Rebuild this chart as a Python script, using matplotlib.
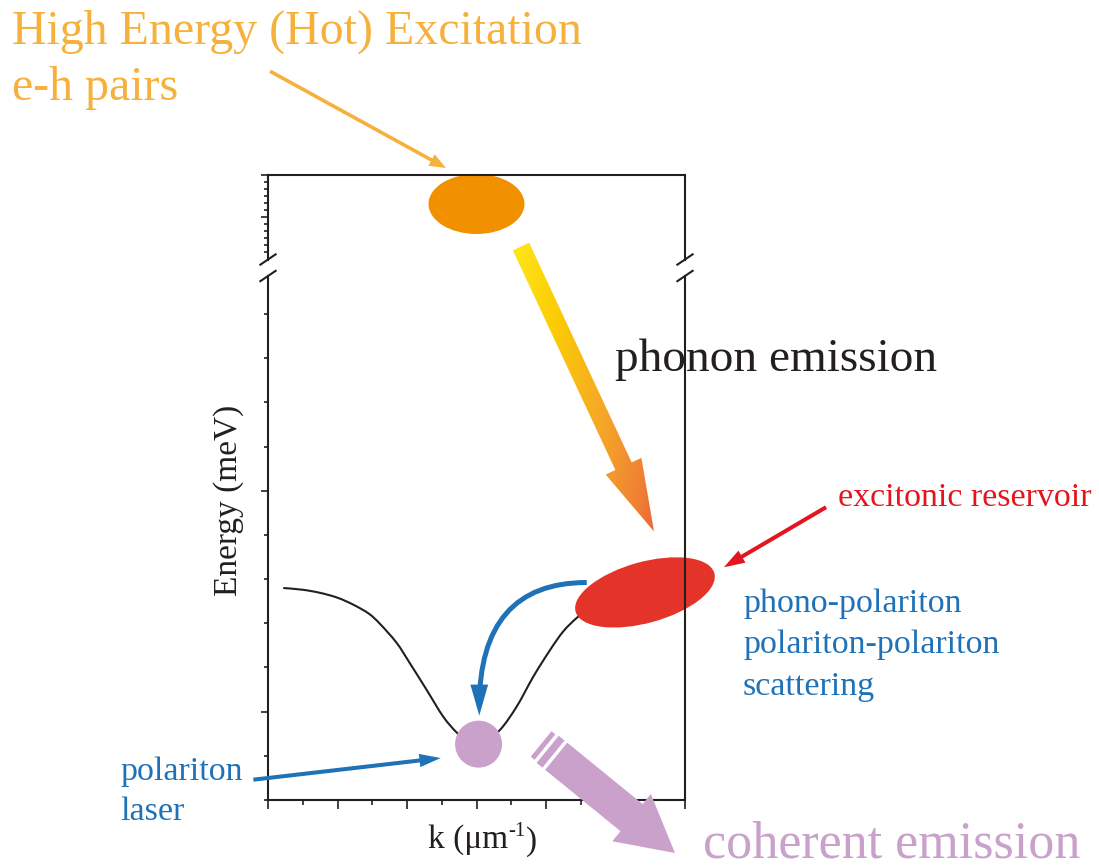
import numpy as np
import matplotlib
matplotlib.use("Agg")
import matplotlib.pyplot as plt
from matplotlib.patches import Ellipse, Circle, Polygon, FancyArrowPatch, ArrowStyle, PathPatch
from matplotlib.path import Path
from matplotlib.colors import LinearSegmentedColormap
from matplotlib.ticker import MultipleLocator, FixedLocator
from matplotlib.lines import Line2D

plt.rcParams['font.family'] = ['Liberation Serif', 'DejaVu Serif']

# ---------------- data ----------------
# lower polariton dispersion (k in um^-1 units of the drawing, E in tick units)
k_curve = [-2.78, -2.50, -2.25, -2.00, -1.77, -1.55, -1.39, -1.15, -0.96, -0.72,
           -0.48, -0.28, -0.10, 0.00, 0.10, 0.34, 0.58, 0.82, 1.06, 1.25,
           1.44, 1.60, 1.77, 2.00, 2.25, 2.50, 2.78]
E_curve = [2.80, 2.76, 2.69, 2.58, 2.42, 2.22, 1.99, 1.56, 1.10, 0.50,
           -0.11, -0.48, -0.70, -0.74, -0.70, -0.41, 0.12, 0.80, 1.40, 1.82,
           2.12, 2.30, 2.45, 2.58, 2.69, 2.76, 2.80]
E_major = [0, 5]
E_hot_major = [0, 6.0]
E_hot_minor = [-5, -4, -3, -2, -1, 1, 2, 3, 4, 5]

title_lines = ["High Energy (Hot) Excitation", "e-h pairs"]
phonon_label = "phonon emission"
reservoir_label = "excitonic reservoir"
scatter_lines = ["phono-polariton", "polariton-polariton", "scattering"]
laser_lines = ["polariton", "laser"]
coherent_label = "coherent emission"
ylabel = "Energy (meV)"
xlabel_parts = ["k (μm", "-1", ")"]

# ---------------- figure ----------------
W, H = 1099, 866
fig = plt.figure(figsize=(W / 100, H / 100), dpi=100)
INK = '#231F20'
ORANGE_TXT = '#F6B13D'
HOT = '#F29100'
RED = '#E4342A'
RED_TXT = '#E3161F'
BLUE = '#1F71B8'
PINK = '#C9A1CB'


def box(l, t, r, b):
    return [l / W, 1 - b / H, (r - l) / W, (b - t) / H]


ax = fig.add_axes(box(268, 276, 685, 800))
axt = fig.add_axes(box(268, 175, 685, 259.5))
ov = fig.add_axes([0, 0, 1, 1], zorder=5)
ov.set_xlim(0, W)
ov.set_ylim(0, H)
ov.axis('off')
ov.patch.set_visible(False)

for a in (ax, axt):
    a.set_xlim(-3, 3)
    a.patch.set_visible(False)
    for s in a.spines.values():
        s.set_linewidth(1.5)
        s.set_color(INK)

ax.set_ylim(-2, 9.864)
ax.spines['top'].set_visible(False)
ax.xaxis.set_major_locator(MultipleLocator(1))
ax.xaxis.set_minor_locator(MultipleLocator(0.5))
ax.yaxis.set_major_locator(FixedLocator(E_major))
ax.yaxis.set_minor_locator(MultipleLocator(1))
ax.tick_params(which='both', direction='out', labelbottom=False, labelleft=False,
               right=False, top=False, color=INK, width=1.2)
ax.tick_params(axis='x', which='major', length=6.2)
ax.tick_params(axis='x', which='minor', length=3.6)
ax.tick_params(axis='y', which='major', length=5.2)
ax.tick_params(axis='y', which='minor', length=3.0)

axt.set_ylim(-6.07, 6.0)
axt.spines['bottom'].set_visible(False)
axt.xaxis.set_visible(False)
axt.yaxis.set_major_locator(FixedLocator(E_hot_major))
axt.yaxis.set_minor_locator(FixedLocator(E_hot_minor))
axt.tick_params(which='both', direction='out', labelleft=False, right=False,
                color=INK, width=1.2)
axt.tick_params(axis='y', which='major', length=5.2)
axt.tick_params(axis='y', which='minor', length=3.0)

# dispersion curve: smooth cubic path through the read points
pts = np.column_stack([k_curve, E_curve])
ext = np.vstack([pts[0], pts, pts[-1]])
verts = [pts[0]]
codes = [Path.MOVETO]
for i in range(len(pts) - 1):
    p0, p1, p2, p3 = ext[i], ext[i + 1], ext[i + 2], ext[i + 3]
    verts += [p1 + (p2 - p0) / 6, p2 - (p3 - p1) / 6, p2]
    codes += [Path.CURVE4] * 3
ax.add_patch(PathPatch(Path(verts, codes), facecolor='none', edgecolor=INK,
                       lw=1.5, zorder=2, clip_on=False))


def D(axis, x, y):
    """axis data -> overlay (pixel) coordinates"""
    return ov.transData.inverted().transform(axis.transData.transform((x, y)))


# axis-break slashes
for a, yfrac in ((axt, 0.0), (ax, 1.0)):
    for xfrac in (0.0, 1.0):
        cx, cy = ov.transData.inverted().transform(a.transAxes.transform((xfrac, yfrac)))
        ov.add_line(Line2D([cx - 8.5, cx + 8.5], [cy - 5.75, cy + 5.75],
                           color=INK, lw=1.5, solid_capstyle='butt'))

# hot e-h ellipse (under the top spine)
hot = Ellipse(D(axt, 0.0, 1.86), 96, 60, facecolor=HOT, edgecolor='none',
              transform=ov.transData, clip_on=False, zorder=1)
axt.add_patch(hot)

# exciton reservoir ellipse
res = Ellipse(D(ax, 2.424, 2.70), 144, 61, angle=15.5, facecolor=RED, edgecolor='none',
              transform=ov.transData, clip_on=False, zorder=2.2)
ax.add_patch(res)

# condensate
cond = Circle(D(ax, 0.03, -0.735), 23.5, facecolor=PINK, edgecolor='none',
              transform=ov.transData, clip_on=False, zorder=2.2)
ax.add_patch(cond)


def arrow_poly(T, P, sw, hw, hl):
    T = np.asarray(T, float)
    P = np.asarray(P, float)
    u = (P - T) / np.hypot(*(P - T))
    n = np.array([-u[1], u[0]])
    B = P - u * hl
    pts_ = np.array([T + n * sw, B + n * sw, B + n * hw, P, B - n * hw, B - n * sw, T - n * sw])
    return pts_, u, n


# gradient phonon-emission arrow
gT = D(ax, 0.64, 10.53)
gP = D(ax, 2.554, 4.08)
gpoly, gu, gn = arrow_poly(gT, gP, 9, 19.7, 72)
gpatch = Polygon(gpoly, closed=True, facecolor='none', edgecolor='none', zorder=3)
ov.add_patch(gpatch)
grad_cmap = LinearSegmentedColormap.from_list(
    'grad', [(0.0, '#FFEA1E'), (0.3, '#FCCB05'), (0.6, '#F6A628'),
             (0.85, '#EF7C35'), (1.0, '#E54E2E')])
xmin, ymin = gpoly.min(0) - 2
xmax, ymax = gpoly.max(0) + 2
xs = np.linspace(xmin, xmax, 200)
ys = np.linspace(ymin, ymax, 400)
X, Y = np.meshgrid(xs, ys)
Lg = np.hypot(*(gP - gT))
tt = ((X - gT[0]) * gu[0] + (Y - gT[1]) * gu[1]) / Lg
nr = gn if gn[0] > 0 else -gn
ww = ((X - gT[0]) * nr[0] + (Y - gT[1]) * nr[1]) / 19.7
vv = np.clip(0.85 * tt + 0.15 * (ww + 1) / 2, 0, 1)
im = ov.imshow(vv, cmap=grad_cmap, vmin=0, vmax=1, extent=[xmin, xmax, ymin, ymax],
               origin='lower', aspect='auto', interpolation='bilinear', zorder=3)
im.set_clip_path(gpatch)

# coherent-emission arrow with stripes
pT = D(ax, 1.147, -1.01)
pP = D(ax, 2.856, -3.20)
ppoly, pu, pn = arrow_poly(pT, pP, 17.5, 30.5, 56)
ov.add_patch(Polygon(ppoly, closed=True, facecolor=PINK, edgecolor='none', zorder=3))
for a0, a1, hh in ((3.5, 11.0, 17.5), (14.5, 19.5, 16.4)):
    s = np.array([pT - pu * a0 + pn * hh, pT - pu * a1 + pn * hh,
                  pT - pu * a1 - pn * hh, pT - pu * a0 - pn * hh])
    ov.add_patch(Polygon(s, closed=True, facecolor=PINK, edgecolor='none', zorder=3))


def thin_arrow(A, B, color, lw, hl, hw, cs='arc3,rad=0'):
    ov.add_patch(FancyArrowPatch(posA=A, posB=B, connectionstyle=cs,
                                 arrowstyle=ArrowStyle('-|>', head_length=hl, head_width=hw),
                                 mutation_scale=1, lw=lw, color=color,
                                 shrinkA=0, shrinkB=0, transform=ov.transData,
                                 zorder=4, joinstyle='miter', capstyle='butt'))


thin_arrow(D(ax, -2.97, 14.5), D(ax, -0.44, 12.31), ORANGE_TXT, 2.6, 7, 2.8)
thin_arrow(D(ax, 5.03, 4.63), D(ax, 3.56, 3.27), RED_TXT, 2.9, 9, 3.0)
thin_arrow(D(ax, -3.21, -1.54), D(ax, -0.515, -1.05), BLUE, 2.9, 9, 2.8)
thin_arrow(D(ax, 1.586, 2.925), D(ax, 0.04, -0.09), BLUE, 3.6, 14, 4.0,
           cs='angle3,angleA=180,angleB=90')


# ---------------- texts ----------------
def T(x, y, s, size, color, **kw):
    return fig.text(x / W, 1 - y / H, s, fontsize=size, color=color, va='baseline',
                    ha='left', **kw)


T(12, 44, title_lines[0], 34.5, ORANGE_TXT)
T(12, 100, title_lines[1], 34.5, ORANGE_TXT)
T(615, 371, phonon_label, 34, INK)
T(838, 506, reservoir_label, 24.5, RED_TXT)
for i, s in enumerate(scatter_lines):
    T(743, 612 + 41.5 * i, s, 24.5, BLUE)
T(120, 780, laser_lines[0], 24.5, BLUE)
T(120, 820, laser_lines[1], 24.5, BLUE)
T(703, 857, coherent_label, 37.5, PINK)

xl0 = T(428, 848, xlabel_parts[0], 24, INK)
xl1 = ov.annotate(xlabel_parts[1], xy=(1, 0), xycoords=xl0, xytext=(0.3, 13.5),
                  textcoords='offset points', fontsize=15, color=INK, va='baseline',
                  ha='left')
ov.annotate(xlabel_parts[2], xy=(1, 0), xycoords=xl1, xytext=(0.3, -6.0),
            textcoords='offset points', fontsize=24, color=INK, va='baseline', ha='left')
fig.text(229 / W, 1 - 500 / H, ylabel, fontsize=24, color=INK, rotation=90,
         ha='center', va='center')

ov.set_xlim(0, W)
ov.set_ylim(0, H)
fig.savefig('out.png', dpi=100)
